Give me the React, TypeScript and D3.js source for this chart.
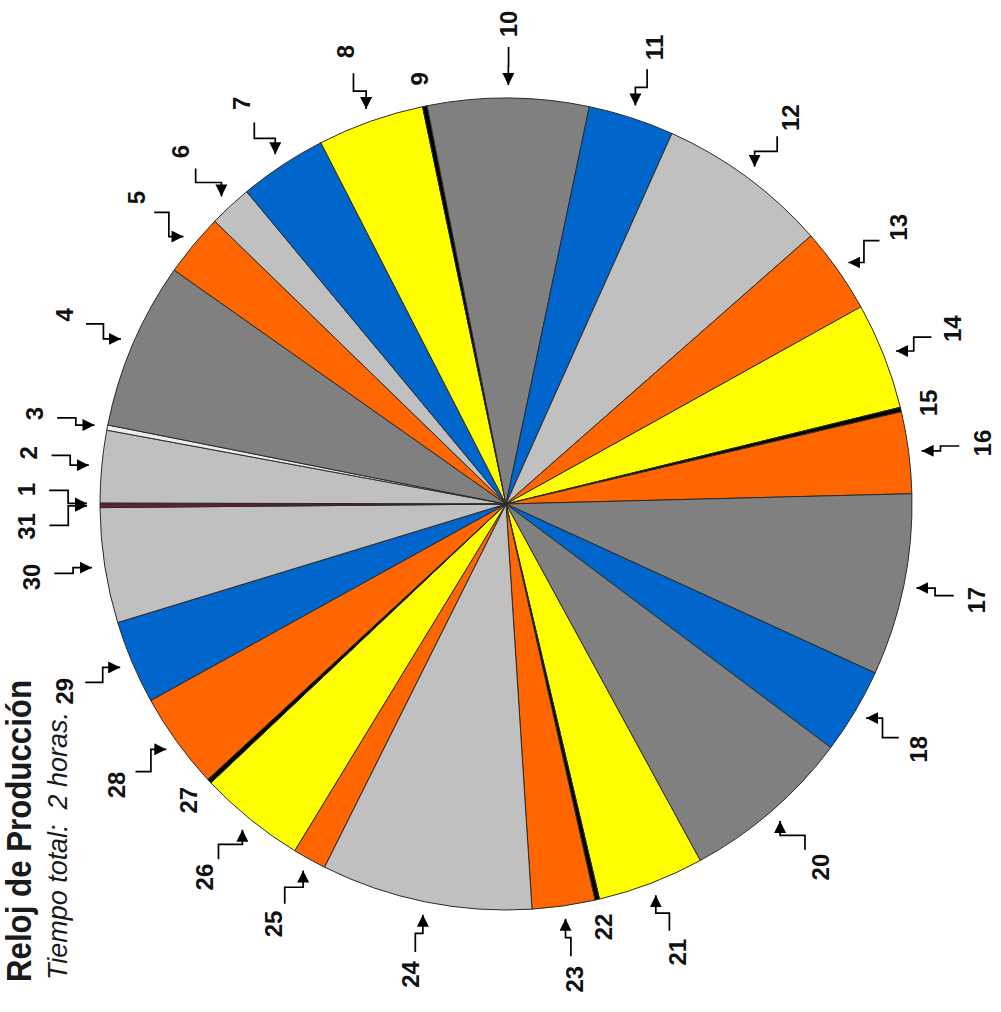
import * as d3 from 'd3'
import React from 'react'

// Reloj de Producción: cada sector es una etapa, en minutos (total 2 horas)
const etiquetas = [
  '1', '2', '3', '4', '5', '6', '7', '8', '9', '10', '11', '12', '13', '14', '15', '16',
  '17', '18', '20', '21', '22', '23', '24', '25', '26', '27', '28', '29', '30', '31',
]
const minutos = [
  0.05, 3.45, 0.25, 8.0, 3.0, 2.05, 4.2, 5.1, 0.22, 7.7, 4.1, 8.2, 4.1, 5.1, 0.22, 3.9,
  8.7, 4.1, 8.2, 5.1, 0.22, 3.0, 10.1, 1.6, 5.1, 0.22, 4.6, 4.0, 5.5, 0.17,
]
const colores = [
  '#9a6fd0', '#c0c0c0', '#ececec', '#808080', '#ff6600', '#c0c0c0', '#0066cc', '#ffff00',
  '#000000', '#808080', '#0066cc', '#c0c0c0', '#ff6600', '#ffff00', '#000000', '#ff6600',
  '#808080', '#0066cc', '#808080', '#ffff00', '#000000', '#ff6600', '#c0c0c0', '#ff6600',
  '#ffff00', '#000000', '#ff6600', '#0066cc', '#c0c0c0', '#7a1838',
]
// etapas marcadas sin flecha (líneas negras finas)
const sinFlecha = ['9', '15', '22', '27']

const titulo = 'Reloj de Producción'
const subtitulo = 'Tiempo total:\u00a0 2 horas.'

const W = 1001
const H = 1012
const cx = 506
const cy = 504
const R = 406

const App = () => {
  const pie = d3
    .pie<number>()
    .sort(null)
    .value((d) => d)
    .startAngle(-Math.PI / 2)
    .endAngle(1.5 * Math.PI)
  const arcs = pie(minutos)
  const arc = d3.arc<d3.PieArcDatum<number>>().innerRadius(0).outerRadius(R)

  const pt = (a: number, r: number) => [cx + r * Math.sin(a), cy - r * Math.cos(a)]

  // separar etiquetas con flecha para que no se encimen
  const conFlecha = arcs
    .map((a, i) => ({ i, mid: (a.startAngle + a.endAngle) / 2 }))
    .filter((d) => !sinFlecha.includes(etiquetas[d.i]))
  const ang = conFlecha.map((d) => d.mid)
  const minGap = (4.4 * Math.PI) / 180
  const n = ang.length
  for (let it = 0; it < 400; it++) {
    for (let i = 0; i < n; i++) {
      const j = (i + 1) % n
      let gap = ang[j] - ang[i]
      if (j === 0) gap += 2 * Math.PI
      if (gap < minGap) {
        const d = (minGap - gap) / 2
        ang[i] -= d
        ang[j] += d
      }
    }
  }

  const flecha = (la: number, mid: number) => {
    const [sx, sy] = pt(la, 457)
    const [ex, ey] = pt(mid, 419)
    if (Math.abs(Math.sin(la)) > Math.abs(Math.cos(la))) {
      const xm = (sx + ex) / 2
      return `M${sx},${sy}H${xm}V${ey}H${ex}`
    }
    const ym = (sy + ey) / 2
    return `M${sx},${sy}V${ym}H${ex}V${ey}`
  }

  return (
    <svg
      width={W}
      height={H}
      style={{ position: 'absolute', left: 0, top: 0, background: '#fff' }}
      fontFamily="'Liberation Sans', Arial, sans-serif"
    >
      <defs>
        <marker
          id="flecha"
          viewBox="0 0 10 10"
          refX="10"
          refY="5"
          markerWidth="12"
          markerHeight="12"
          markerUnits="userSpaceOnUse"
          orient="auto"
        >
          <path d="M0,0L10,5L0,10Z" fill="#000" />
        </marker>
      </defs>

      <g transform={`translate(${cx},${cy})`}>
        {arcs.map((a, i) => (
          <path
            key={i}
            d={arc(a) || ''}
            fill={colores[i]}
            stroke="#2a2a2a"
            strokeWidth={1}
            strokeLinejoin="round"
          />
        ))}
      </g>

      {conFlecha.map((d, k) => {
        const [lx, ly] = pt(ang[k], 480)
        return (
          <g key={'f' + d.i}>
            <path
              d={flecha(ang[k], d.mid)}
              fill="none"
              stroke="#000"
              strokeWidth={1.7}
              markerEnd="url(#flecha)"
            />
            <text
              transform={`translate(${lx},${ly}) rotate(-90)`}
              textAnchor="middle"
              dominantBaseline="central"
              fontSize={24}
              fontWeight="bold"
              fill="#111"
            >
              {etiquetas[d.i]}
            </text>
          </g>
        )
      })}

      {arcs.map((a, i) => {
        if (!sinFlecha.includes(etiquetas[i])) return null
        const [lx, ly] = pt((a.startAngle + a.endAngle) / 2, 434)
        return (
          <text
            key={'s' + i}
            transform={`translate(${lx},${ly}) rotate(-90)`}
            textAnchor="middle"
            dominantBaseline="central"
            fontSize={24}
            fontWeight="bold"
            fill="#111"
          >
            {etiquetas[i]}
          </text>
        )
      })}

      <text
        transform="translate(31,982) rotate(-90)"
        fontFamily="'Liberation Sans Narrow', 'Arial Narrow', 'Liberation Sans', sans-serif"
        fontSize={35}
        fontWeight="bold"
        fill="#1a1a1a"
        textLength={302}
        lengthAdjust="spacingAndGlyphs"
      >
        {titulo}
      </text>
      <text
        transform="translate(67,980) rotate(-90)"
        fontFamily="'Liberation Sans Narrow', 'Arial Narrow', 'Liberation Sans', sans-serif"
        fontSize={28}
        fontStyle="italic"
        fill="#1a1a1a"
        textLength={268}
        lengthAdjust="spacingAndGlyphs"
      >
        {subtitulo}
      </text>
    </svg>
  )
}

export default App
